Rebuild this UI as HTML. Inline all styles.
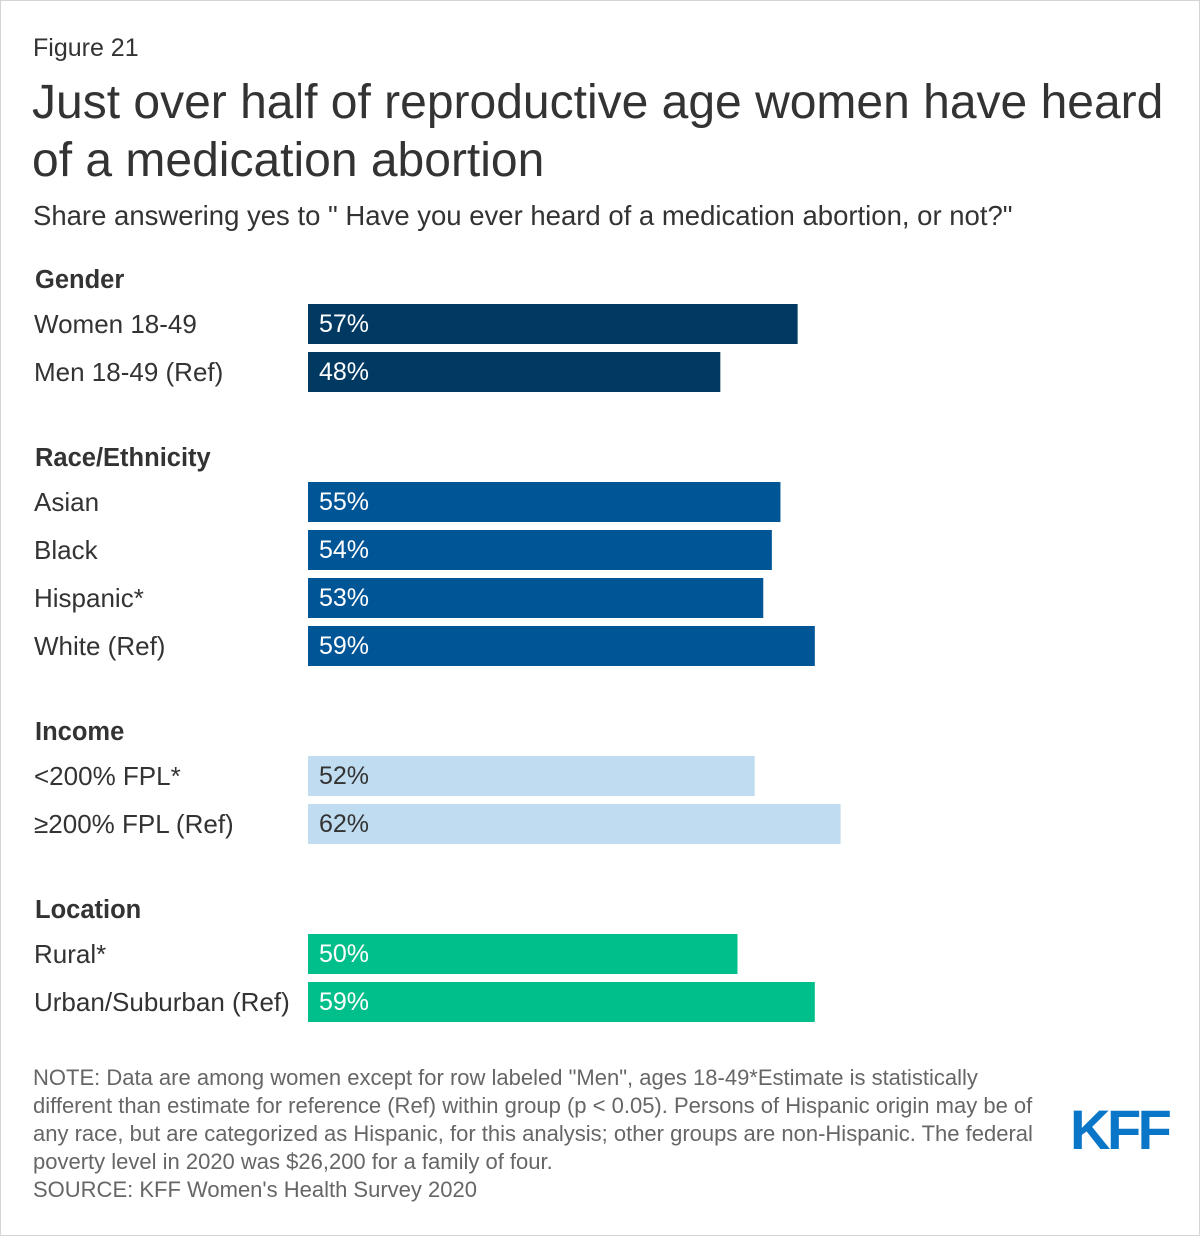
<!DOCTYPE html>
<html><head><meta charset="utf-8"><style>
body{margin:0;background:#fff;font-family:"Liberation Sans",Arial,sans-serif;color:#333}
#wrap{position:relative;width:1198px;height:1234px;border:1px solid #d4d4d4;overflow:hidden}
.t{position:absolute;white-space:nowrap}
</style></head><body>
<div id="wrap">
<div class="t" style="left:32px;top:33px;font-size:25px;color:#333">Figure 21</div>
<div class="t" style="left:31px;top:73px;font-size:48px;line-height:58px;color:#333">Just over half of reproductive age women have heard<br>of a medication abortion</div>
<div class="t" style="left:32px;top:199px;font-size:27.5px;color:#333">Share answering yes to " Have you ever heard of a medication abortion, or not?"</div>
<svg id="chart" width="1198" height="1060" style="position:absolute;left:-1px;top:-1px"></svg>
<div class="t" style="left:32px;top:1063px;font-size:22px;line-height:28px;color:#666">NOTE: Data are among women except for row labeled "Men", ages 18-49*Estimate is statistically<br>different than estimate for reference (Ref) within group (p &lt; 0.05). Persons of Hispanic origin may be of<br>any race, but are categorized as Hispanic, for this analysis; other groups are non-Hispanic. The federal<br>poverty level in 2020 was $26,200 for a family of four.<br>SOURCE: KFF Women's Health Survey 2020</div>
<div class="t" style="left:1069px;top:1096px;font-size:56px;font-weight:bold;color:#0a76c8;letter-spacing:-3.5px">KFF</div>
</div>
<script>
const groups=["Gender","Race/Ethnicity","Income","Location"];
const groupY=[279,457,731,909];
const categories=["Women 18-49","Men 18-49 (Ref)","Asian","Black","Hispanic*","White (Ref)","<200% FPL*","≥200% FPL (Ref)","Rural*","Urban/Suburban (Ref)"];
const values=[57,48,55,54,53,59,52,62,50,59];
const groupOf=[0,0,1,1,1,1,2,2,3,3];
const colors=["#003a63","#005596","#c0dcf0","#00bf8a"];
const textColors=["#fff","#fff","#333","#fff"];
const svg=document.getElementById('chart');
const NS='http://www.w3.org/2000/svg';
const x0=308,scale=8.59;
function xs(v){return v*scale;}
function rowY(i){const g=groupOf[i];let k=0;for(let j=0;j<i;j++)if(groupOf[j]===g)k++;return groupY[g]+25+k*48;}
groups.forEach((g,i)=>{
 const t=document.createElementNS(NS,'text');
 t.setAttribute('x',35);t.setAttribute('y',groupY[i]+9);
 t.setAttribute('font-size','25.5');t.setAttribute('font-weight','bold');t.setAttribute('fill','#333');
 t.textContent=g;
 
 
 svg.appendChild(t);
});
categories.forEach((c,i)=>{
 const y=rowY(i),g=groupOf[i];
 const l=document.createElementNS(NS,'text');
 l.setAttribute('x',34);l.setAttribute('y',y+29);l.setAttribute('font-size','26');l.setAttribute('fill','#333');
 l.textContent=c;
 
 
 svg.appendChild(l);
 const r=document.createElementNS(NS,'rect');
 r.setAttribute('x',x0);r.setAttribute('y',y);r.setAttribute('width',xs(values[i]));r.setAttribute('height',40);
 r.setAttribute('fill',colors[g]);
 
 
 svg.appendChild(r);
 const v=document.createElementNS(NS,'text');
 v.setAttribute('x',x0+11);v.setAttribute('y',y+28);v.setAttribute('font-size','25');v.setAttribute('fill',textColors[g]);
 v.textContent=values[i]+'%';
 
 
 svg.appendChild(v);
});
</script>
</body></html>
